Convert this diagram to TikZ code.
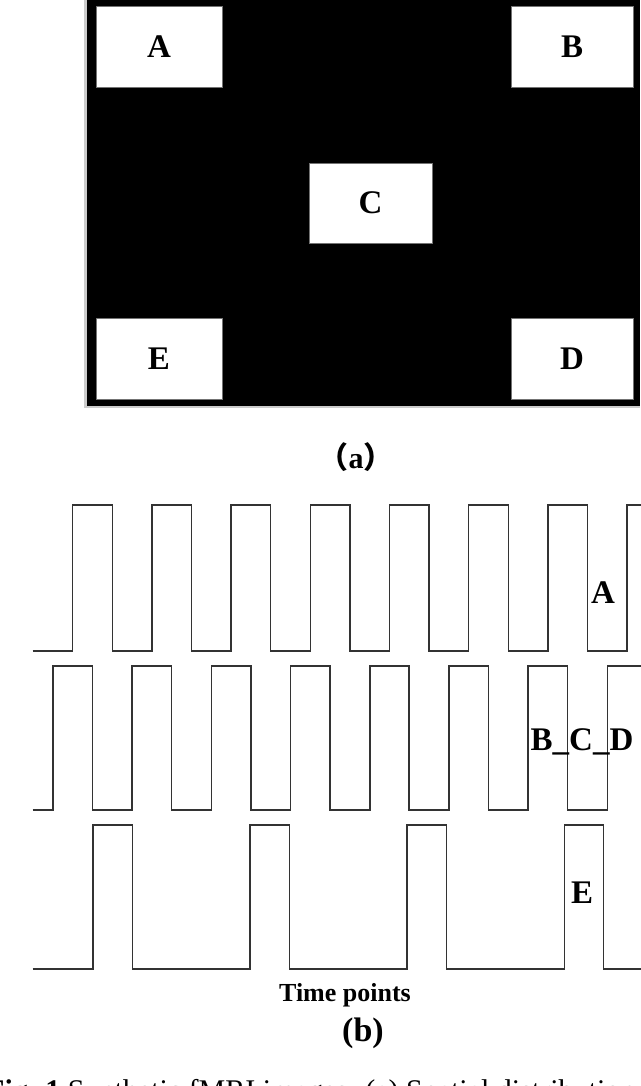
\documentclass[tikz,border=0pt]{standalone}
\usepackage{fontspec}
\setmainfont{Liberation Serif}
\newfontfamily\cjk{Noto Sans CJK SC}
\begin{document}
\begin{tikzpicture}[x=1pt,y=-1pt,
  wave/.style={line width=1.5pt,draw=black!80},
  box/.style={fill=white,draw=black!55,line width=0.8pt},
  lbl/.style={font=\bfseries\fontsize{33}{33}\selectfont}]
\useasboundingbox (0,0) rectangle (640,1086);
\fill[black!20] (84,0) rectangle (640,408);
\fill[black] (87,0) rectangle (640,406);
\draw[box] (96,6) rectangle (222,87) node[midway,lbl] (a) {A};
\draw[box] (511,6) rectangle (633,87) node[midway,lbl] (b) {B};
\draw[box] (309,163) rectangle (432,243) node[midway,lbl] (c) {C};
\draw[box] (96,318) rectangle (222,399) node[midway,lbl] (e) {E};
\draw[box] (511,318) rectangle (633,399) node[midway,lbl] (d) {D};
\node[font=\bfseries\fontsize{30}{30}\selectfont] (la) at (356,457) {{\cjk （}a{\cjk ）}};
% wave A
\draw[wave] (32.7,651) \foreach \k in {0,...,6}{ -- ({72.7+79.2*\k},651) -- ({72.7+79.2*\k},505) -- ({112.3+79.2*\k},505) -- ({112.3+79.2*\k},651)} -- (627.1,651) -- (627.1,505) -- (641,505);
% wave BCD
\draw[wave] (32.7,810) \foreach \k in {0,...,6}{ -- ({53+79.2*\k},810) -- ({53+79.2*\k},666) -- ({92.4+79.2*\k},666) -- ({92.4+79.2*\k},810)} -- (607.4,810) -- (607.4,666) -- (641,666);
% wave E
\draw[wave] (32.7,969) \foreach \k in {0,...,3}{ -- ({93+157.1*\k},969) -- ({93+157.1*\k},825) -- ({132.4+157.1*\k},825) -- ({132.4+157.1*\k},969)} -- (641,969);
\node[lbl] (wa) at (603,593) {A};
\node[lbl] (wb) at (582,742) {B\_C\_D};
\node[lbl] (we) at (582,893) {E};
\node[font=\bfseries\fontsize{26}{26}\selectfont] (tp) at (345,995) {Time points};
\node[font=\bfseries\fontsize{34}{34}\selectfont] (lb) at (363,1033) {(b)};
\node[anchor=base west,font=\fontsize{30}{30}\selectfont,inner sep=0] (cap) at (-14,1100) {\textbf{Fig. 1} Synthetic fMRI images. (a) Spatial distribution of};
\end{tikzpicture}
\end{document}
